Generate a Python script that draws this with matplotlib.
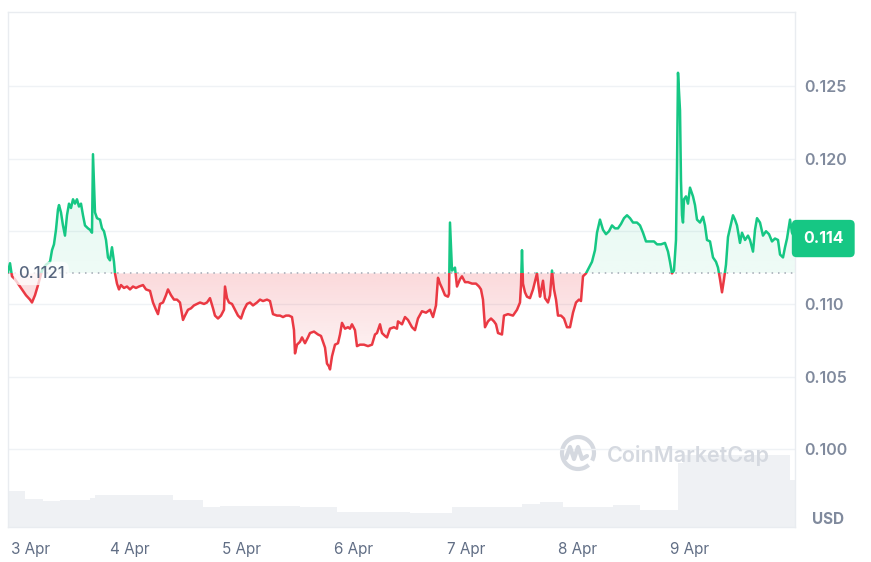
import numpy as np
import pandas as pd
import matplotlib
matplotlib.use("Agg")
import matplotlib.pyplot as plt
import matplotlib.dates as mdates
from matplotlib.patches import Rectangle, Arc
from matplotlib.path import Path
from matplotlib.lines import Line2D
from matplotlib.transforms import ScaledTranslation

# ---------------- data ----------------
hours = [-2.14, -1.71, -1.29, -0.64, 0.0, 0.86, 1.71, 2.57, 3.0, 3.64, 4.29, 5.14, 6.0, 6.86,
         7.29, 7.71, 8.14, 8.57, 8.79, 9.21, 9.64, 10.07, 10.5, 10.93, 11.36, 11.79, 12.21,
         12.64, 13.07, 13.5, 13.93, 14.36, 15.0, 15.43, 15.86, 16.07, 16.5, 16.93, 17.57,
         18.0, 18.43, 18.86, 19.29, 19.71, 20.14, 20.57, 20.79, 21.21, 21.64, 22.07, 22.71,
         23.36, 24.0, 24.64, 25.29, 25.93, 26.79, 27.43, 28.29, 28.93, 29.57, 30.0, 30.43,
         31.07, 31.71, 32.14, 32.79, 33.43, 34.07, 34.71, 35.36, 35.79, 36.43, 37.07, 37.71,
         38.36, 39.0, 39.86, 40.5, 41.14, 41.79, 42.21, 42.86, 43.5, 44.14, 44.36, 44.79,
         45.21, 45.86, 46.5, 47.14, 47.79, 48.43, 49.07, 49.71, 50.36, 51.21, 51.86, 52.5,
         53.36, 54.0, 54.64, 55.5, 56.14, 56.79, 57.43, 58.07, 58.71, 59.14, 59.36, 59.79,
         60.43, 60.86, 61.5, 62.14, 62.57, 63.43, 64.29, 64.93, 65.36, 65.79, 66.21, 66.64,
         66.86, 67.29, 67.93, 68.57, 69.0, 69.43, 70.07, 70.71, 71.14, 71.57, 72.21, 72.64,
         73.29, 74.14, 75.0, 75.86, 76.5, 76.93, 77.57, 78.0, 78.64, 79.07, 79.71, 80.57,
         81.21, 81.43, 82.29, 82.93, 83.57, 84.43, 85.07, 85.71, 86.57, 87.43, 88.29, 88.93,
         89.57, 90.0, 90.43, 90.86, 91.5, 92.14, 92.36, 92.57, 93.0, 93.64, 94.07, 94.71,
         95.14, 95.79, 96.43, 97.29, 98.14, 98.79, 99.21, 99.64, 100.07, 100.71, 101.36,
         102.0, 102.43, 102.86, 103.71, 104.14, 105.0, 106.07, 106.93, 107.57, 107.79, 108.0,
         108.21, 108.64, 109.07, 109.71, 110.36, 111.21, 111.64, 111.86, 112.5, 112.93,
         113.57, 114.0, 114.43, 114.86, 115.29, 115.71, 116.36, 117.0, 117.64, 118.29,
         118.93, 119.57, 120.21, 120.64, 121.07, 121.71, 122.36, 123.0, 123.64, 124.07,
         124.71, 125.36, 126.0, 126.64, 127.29, 127.93, 128.57, 129.21, 129.86, 130.5,
         131.14, 131.79, 132.64, 133.29, 133.93, 134.57, 135.43, 136.29, 136.93, 137.79,
         138.64, 139.29, 139.71, 140.14, 140.57, 141.0, 141.21, 141.43, 141.86, 142.07,
         142.29, 142.5, 142.71, 143.14, 143.57, 144.0, 144.64, 145.07, 145.5, 146.14, 146.79,
         147.21, 147.64, 148.29, 148.93, 149.57, 150.0, 150.43, 150.86, 151.29, 151.71,
         152.14, 152.57, 153.21, 153.64, 154.07, 154.71, 155.14, 155.79, 156.43, 156.86,
         157.5, 157.93, 158.36, 159.0, 159.64, 160.29, 160.93, 161.57, 162.21, 162.86,
         163.29, 163.93, 164.36, 164.79, 165.43, 165.86, 166.5]

prices = [0.1122, 0.1128, 0.1119, 0.1117, 0.1114, 0.1110, 0.1106, 0.1103, 0.1101, 0.1106,
          0.1113, 0.1123, 0.1127, 0.1129, 0.1137, 0.1141, 0.1151, 0.1165, 0.1168, 0.1163,
          0.1154, 0.1147, 0.1161, 0.1169, 0.1166, 0.1172, 0.1169, 0.1172, 0.1167, 0.1169,
          0.1161, 0.1154, 0.1152, 0.1151, 0.1149, 0.1203, 0.1163, 0.1159, 0.1158, 0.1152,
          0.1150, 0.1144, 0.1132, 0.1130, 0.1139, 0.1129, 0.1121, 0.1114, 0.1110, 0.1113,
          0.1111, 0.1112, 0.1110, 0.1112, 0.1111, 0.1112, 0.1113, 0.1110, 0.1109, 0.1101,
          0.1096, 0.1093, 0.1100, 0.1101, 0.1106, 0.1110, 0.1106, 0.1103, 0.1103, 0.1101,
          0.1089, 0.1092, 0.1096, 0.1097, 0.1099, 0.1100, 0.1101, 0.1100, 0.1101, 0.1104,
          0.1097, 0.1092, 0.1090, 0.1092, 0.1096, 0.1112, 0.1104, 0.1101, 0.1100, 0.1096,
          0.1092, 0.1090, 0.1096, 0.1100, 0.1101, 0.1099, 0.1101, 0.1103, 0.1102, 0.1103,
          0.1102, 0.1093, 0.1092, 0.1092, 0.1091, 0.1092, 0.1092, 0.1091, 0.1082, 0.1066,
          0.1072, 0.1074, 0.1077, 0.1073, 0.1077, 0.1080, 0.1081, 0.1079, 0.1078, 0.1074,
          0.1070, 0.1059, 0.1057, 0.1055, 0.1064, 0.1072, 0.1073, 0.1079, 0.1087, 0.1083,
          0.1084, 0.1083, 0.1086, 0.1082, 0.1071, 0.1072, 0.1072, 0.1071, 0.1072, 0.1079,
          0.1080, 0.1086, 0.1080, 0.1078, 0.1077, 0.1083, 0.1084, 0.1083, 0.1088, 0.1086,
          0.1091, 0.1089, 0.1084, 0.1082, 0.1090, 0.1095, 0.1094, 0.1096, 0.1091, 0.1099,
          0.1118, 0.1114, 0.1111, 0.1106, 0.1105, 0.1107, 0.1156, 0.1123, 0.1125, 0.1112,
          0.1117, 0.1119, 0.1115, 0.1115, 0.1114, 0.1114, 0.1112, 0.1110, 0.1103, 0.1084,
          0.1088, 0.1090, 0.1088, 0.1086, 0.1080, 0.1079, 0.1092, 0.1093, 0.1092, 0.1096,
          0.1101, 0.1113, 0.1137, 0.1114, 0.1108, 0.1105, 0.1104, 0.1110, 0.1121, 0.1110,
          0.1105, 0.1116, 0.1104, 0.1101, 0.1106, 0.1123, 0.1110, 0.1103, 0.1092, 0.1092,
          0.1090, 0.1084, 0.1084, 0.1094, 0.1101, 0.1103, 0.1102, 0.1119, 0.1121, 0.1125,
          0.1129, 0.1137, 0.1149, 0.1158, 0.1151, 0.1148, 0.1150, 0.1154, 0.1152, 0.1152,
          0.1155, 0.1159, 0.1161, 0.1159, 0.1156, 0.1156, 0.1154, 0.1149, 0.1143, 0.1143,
          0.1143, 0.1141, 0.1141, 0.1142, 0.1136, 0.1129, 0.1121, 0.1123, 0.1144, 0.1192,
          0.1259, 0.1233, 0.1185, 0.1161, 0.1156, 0.1172, 0.1174, 0.1169, 0.1180, 0.1174,
          0.1168, 0.1158, 0.1156, 0.1160, 0.1154, 0.1144, 0.1143, 0.1132, 0.1129, 0.1125,
          0.1117, 0.1108, 0.1117, 0.1127, 0.1146, 0.1152, 0.1161, 0.1158, 0.1154, 0.1142,
          0.1149, 0.1144, 0.1147, 0.1144, 0.1136, 0.1151, 0.1159, 0.1156, 0.1147, 0.1150,
          0.1148, 0.1143, 0.1145, 0.1144, 0.1134, 0.1132, 0.1139, 0.1145, 0.1158, 0.1149,
          0.1145]

# volume: start hour of each step and relative volume level
vol_start = [-2.14, 1.5, 5.4, 9.0, 15.4, 16.5, 33.2, 39.6, 43.3, 60.4, 68.4, 84.0, 93.0,
             108.0, 111.9, 116.8, 127.5, 133.3, 141.4, 142.5, 165.4]
vol_vals = [36, 28, 26, 27, 29, 32, 27, 20, 21, 20, 15, 14, 20, 23, 25, 20, 22, 17, 64, 72, 47]
vol_end = 166.5

base_price = 0.1121
base_label = "0.1121"
last_label = "0.114"
ytick_vals = [0.100, 0.105, 0.110, 0.115, 0.120, 0.125]
ytick_labels = ["0.100", "0.105", "0.110", "", "0.120", "0.125"]
day_offsets = [0, 1, 2, 3, 4, 5, 6]
day_labels = ["3 Apr", "4 Apr", "5 Apr", "6 Apr", "7 Apr", "8 Apr", "9 Apr"]

# ---------------- styling ----------------
GREEN = "#16c784"
RED = "#ea3943"
GRID = "#eff2f5"
FONT = ["Inter", "DejaVu Sans"]
plt.rcParams["font.family"] = FONT

W, H = 871, 562
fig = plt.figure(figsize=(W / 100, H / 100), dpi=100)
pos = [8 / W, (H - 527) / H, 787 / W, 515 / H]

t0 = pd.Timestamp("2025-04-03")
x = mdates.date2num(t0 + pd.to_timedelta(hours, unit="h"))
p = np.array(prices)
xmin = mdates.date2num(t0 + pd.to_timedelta(hours[0], unit="h"))
xmax = mdates.date2num(t0 + pd.to_timedelta(vol_end, unit="h"))
ymin, ymax = 0.09466, 0.13008

# volume axes (behind)
ax_v = fig.add_axes(pos, zorder=0)
vs = mdates.date2num(t0 + pd.to_timedelta(vol_start, unit="h"))
ve = np.append(vs[1:], xmax)
ax_v.bar(vs, vol_vals, width=ve - vs, align="edge", color="#eff1f4", linewidth=0)
ax_v.set_xlim(xmin, xmax)
ax_v.set_ylim(0, max(vol_vals) * 515 / 72)
ax_v.axis("off")

# main axes
ax = fig.add_axes(pos, zorder=1)
ax.set_facecolor("none")
ax.set_xlim(xmin, xmax)
ax.set_ylim(ymin, ymax)


def gradient_fill(where, color, a_lo, a_hi, y_lo, y_hi):
    coll = ax.fill_between(x, p, base_price, where=where, interpolate=True,
                           color="none", linewidth=0)
    paths = coll.get_paths()
    if not paths:
        return
    comp = Path.make_compound_path(*paths)
    n = 256
    img = np.zeros((n, 1, 4))
    img[:, 0, :3] = matplotlib.colors.to_rgb(color)
    img[:, 0, 3] = np.linspace(a_lo, a_hi, n)
    im = ax.imshow(img, extent=[xmin, xmax, y_lo, y_hi], origin="lower",
                   aspect="auto", zorder=2, interpolation="bilinear")
    im.set_clip_path(comp, ax.transData)


# green: above baseline, a little stronger toward the top
gradient_fill(p >= base_price, GREEN, 0.07, 0.15, base_price, 0.1265)
# red: below baseline, strongest at baseline, fading downward
gradient_fill(p <= base_price, RED, 0.04, 0.19, 0.1053, base_price)
ax.set_xlim(xmin, xmax)
ax.set_ylim(ymin, ymax)

# baseline
ax.axhline(base_price, color="#a1a7b3", lw=1.1, ls=(0, (1, 3.2)), zorder=3)

# price line split at baseline
lg, = ax.plot(x, p, color=GREEN, lw=1.8, zorder=4, solid_joinstyle="round")
lg.set_clip_path(Rectangle((xmin, base_price), xmax - xmin, 1.0, transform=ax.transData))
lr, = ax.plot(x, p, color=RED, lw=1.8, zorder=4, solid_joinstyle="round")
lr.set_clip_path(Rectangle((xmin, base_price - 1.0), xmax - xmin, 1.0, transform=ax.transData))

# grid & spines
ax.set_yticks(ytick_vals)
ax.set_yticklabels(ytick_labels)
ax.yaxis.tick_right()
ax.grid(axis="y", color=GRID, lw=1, zorder=0)
ax.set_axisbelow(True)
for s in ax.spines.values():
    s.set_color("#e9ecf0")
    s.set_linewidth(1)
ax.tick_params(axis="y", length=0, pad=7, labelsize=11.5, labelcolor="#808a9d")
for lab in ax.get_yticklabels():
    lab.set_fontweight(600)

xt = [mdates.date2num(t0 + pd.Timedelta(days=d)) for d in day_offsets]
ax.set_xticks(xt)
ax.set_xticklabels(day_labels)
ax.tick_params(axis="x", length=0, pad=11, labelsize=11, labelcolor="#616e85")
first = ax.get_xticklabels()[0]
first.set_transform(first.get_transform() + ScaledTranslation(13 / 100, 0, fig.dpi_scale_trans))

# baseline label
ax.text((18 - 8) / 787, base_price, base_label, transform=ax.get_yaxis_transform(),
        ha="left", va="center", fontsize=12, color="#58667e", fontweight=500,
        zorder=6,
        bbox=dict(boxstyle="round,pad=0.25,rounding_size=0.4", fc="white", ec="none", alpha=0.75))

# last price badge
ax.annotate(last_label, xy=((803 - 8) / 787, p[-1]), xycoords=("axes fraction", "data"),
            ha="left", va="center", fontsize=11.5, color="white", fontweight="bold",
            annotation_clip=False, zorder=7,
            bbox=dict(boxstyle="round,pad=0.7,rounding_size=0.3", fc=GREEN, ec="none"))

# USD
fig.text(812 / W, (H - 520) / H, "USD", ha="left", va="center", fontsize=11,
         fontweight="bold", color="#808a9d")

# watermark
fig.text(607 / W, (H - 455) / H, "CoinMarketCap", ha="left", va="center", fontsize=15.5,
         fontweight="semibold", color="#d5d9e0", zorder=3)
cx, cy = 578 / W, (H - 453) / H
fig.add_artist(Arc((cx, cy), 32 / W, 32 / H, theta1=-40, theta2=300,
                   transform=fig.transFigure, color="#d5d9e0", lw=3))
mx = np.array([566, 570, 574, 578, 582, 587]) / W
my = (H - np.array([458, 447, 459, 447, 459, 456])) / H
fig.add_artist(Line2D(mx, my, transform=fig.transFigure, color="#d5d9e0", lw=3,
                      solid_joinstyle="round", solid_capstyle="round"))

fig.savefig("out.png", dpi=100)
